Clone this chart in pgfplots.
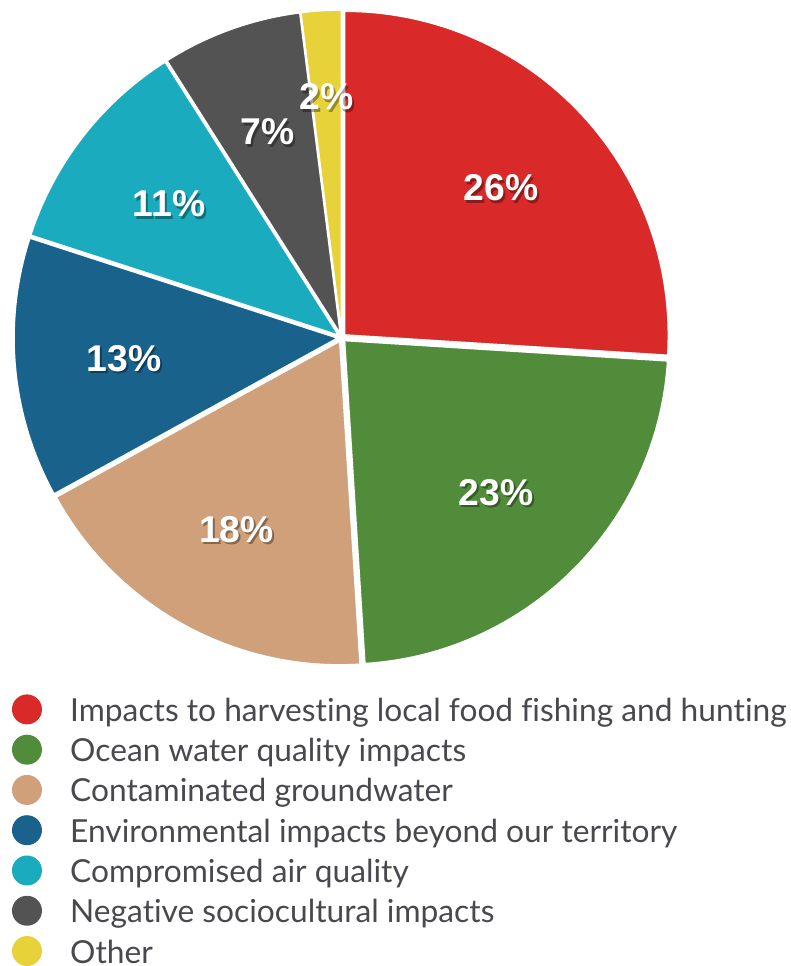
\documentclass[border=0pt]{standalone}
\usepackage{pgfplots}
\pgfplotsset{compat=1.18}
\usepackage{pgfplotstable}
\usepackage{fontspec}
\setmainfont[Ligatures={NoCommon}]{Lato}
\newfontfamily\labelfont{Liberation Sans}

\definecolor{c0}{RGB}{217,41,41}
\definecolor{c1}{RGB}{80,140,58}
\definecolor{c2}{RGB}{207,160,122}
\definecolor{c3}{RGB}{25,98,140}
\definecolor{c4}{RGB}{26,172,190}
\definecolor{c5}{RGB}{83,83,83}
\definecolor{c6}{RGB}{232,210,58}
\definecolor{legendtext}{RGB}{72,72,78}

% share in percent, legend text, label distance (fraction of radius)
\pgfplotstableread[col sep=comma]{
share,lab,rf
26,Impacts to harvesting local food fishing and hunting,0.675
23,Ocean water quality impacts,0.675
18,Contaminated groundwater,0.675
13,Environmental impacts beyond our territory,0.675
11,Compromised air quality,0.675
7,Negative sociocultural impacts,0.675
2,Other,0.745
}\piedata

% cumulative angles, clockwise from 12 o'clock
\def\cum{90}
\pgfplotsforeachungrouped \i in {0,...,6}{%
  \pgfplotstablegetelem{\i}{share}\of\piedata
  \let\val\pgfplotsretval
  \pgfmathsetmacro\myend{\cum-3.6*\val}
  \pgfmathsetmacro\mymid{(\cum+\myend)/2}
  \expandafter\xdef\csname sa\i\endcsname{\cum}
  \expandafter\xdef\csname ea\i\endcsname{\myend}
  \expandafter\xdef\csname ma\i\endcsname{\mymid}
  \expandafter\xdef\csname val\i\endcsname{\val}
  \pgfplotstablegetelem{\i}{rf}\of\piedata
  \expandafter\xdef\csname rf\i\endcsname{\pgfplotsretval}
  \pgfplotstablegetelem{\i}{lab}\of\piedata
  \expandafter\xdef\csname lab\i\endcsname{\pgfplotsretval}
  \xdef\cum{\myend}
}

\begin{document}
\begin{tikzpicture}
\begin{axis}[
    x=0.75pt, y=0.75pt,
    xmin=0, xmax=791, ymin=0, ymax=966,
    scale only axis,
    hide axis,
    clip=false,
]
\path (axis cs:0,0) rectangle (axis cs:791,966);

% slices
\pgfplotsinvokeforeach{0,...,6}{
  \fill[c#1, draw=white, line width=1.2pt, line join=round,
        shift={(\csname ma#1\endcsname:3pt)}]
    (axis cs:342,628) -- ++(\csname sa#1\endcsname:243pt)
    arc[start angle=\csname sa#1\endcsname, end angle=\csname ea#1\endcsname, radius=243pt]
    -- cycle;
}

% percentage labels with shadow
\pgfplotsinvokeforeach{0,...,6}{
  \path (axis cs:342,628) ++(\csname ma#1\endcsname:243pt*\csname rf#1\endcsname)
    node[font=\labelfont\bfseries\fontsize{28}{28}\selectfont, text=black,
         opacity=0.35, xshift=1.5pt, yshift=-2pt] {\csname val#1\endcsname\%};
  \path (axis cs:342,628) ++(\csname ma#1\endcsname:243pt*\csname rf#1\endcsname)
    node[font=\labelfont\bfseries\fontsize{28}{28}\selectfont, text=white]
    {\csname val#1\endcsname\%};
}

% legend
\pgfplotsinvokeforeach{0,...,6}{
  \fill[c#1] (axis cs:27,{256-40.3*#1}) circle[radius=11.25pt];
  \node[anchor=base west, inner sep=0pt, text=legendtext,
        font=\fontsize{23.8}{23.8}\selectfont]
    at (axis cs:70,{244-40.3*#1}) {\csname lab#1\endcsname};
}
\end{axis}
\end{tikzpicture}
\end{document}
